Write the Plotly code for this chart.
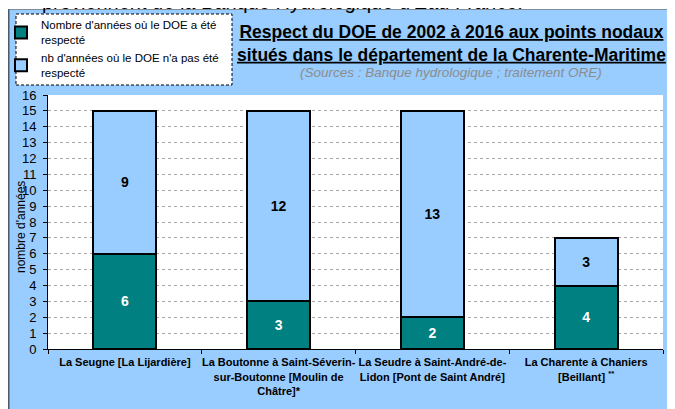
import plotly.graph_objects as go

categories = [
    "La Seugne [La Lijardière]",
    "La Boutonne à Saint-Séverin-<br>sur-Boutonne [Moulin de<br>Châtre]*",
    "La Seudre à Saint-André-de-<br>Lidon [Pont de Saint André]",
    "La Charente à Chaniers<br>[Beillant] <sup>**</sup>",
]
respecte = [6, 3, 2, 4]
non_respecte = [9, 12, 13, 3]
series_names = [
    "Nombre d'années où le DOE a été<br>respecté",
    "nb d'années où le DOE n'a pas été<br>respecté",
]
y_ticks = list(range(0, 17))
y_title = "nombre d'années"

# page offset (body margin of the html page)
OFF = 8
W, H = 675 - OFF, 409 - OFF
# plot area in page pixels: x 48..663, y 95..349
L = 48 - OFF
R = (OFF + W) - 663
T = 95 - OFF
B = (OFF + H) - 349
PW, PH = W - L - R, H - T - B


def px(x):
    """page x pixel -> paper coordinate"""
    return (x - OFF - L) / PW


def py(y):
    """page y pixel -> paper coordinate"""
    return (OFF + H - B - y) / PH


fig = go.Figure()
fig.add_trace(go.Bar(
    x=categories, y=respecte, name=series_names[0],
    marker=dict(color="#008080", line=dict(color="black", width=2)),
    text=respecte, textposition="inside", insidetextanchor="middle",
    textangle=0,
    textfont=dict(color="white", size=14, family="Liberation Sans"),
    texttemplate="<b>%{text}</b>",
))
fig.add_trace(go.Bar(
    x=categories, y=non_respecte, name=series_names[1],
    marker=dict(color="#99CCFF", line=dict(color="black", width=2)),
    text=non_respecte, textposition="inside", insidetextanchor="middle",
    textangle=0,
    textfont=dict(color="black", size=14, family="Liberation Sans"),
    texttemplate="<b>%{text}</b>",
))

shapes = [
    # white strip at top
    dict(type="rect", xref="paper", yref="paper", x0=px(0), x1=px(700), y0=py(9.3), y1=py(0),
         fillcolor="white", line=dict(width=0), layer="below"),
    # panel borders
    dict(type="line", xref="paper", yref="paper", x0=px(8), x1=px(700), y0=py(9.5), y1=py(9.5),
         line=dict(color="#7f8c99", width=1), layer="below"),
    dict(type="line", xref="paper", yref="paper", x0=px(8.5), x1=px(8.5), y0=py(9.3), y1=py(420),
         line=dict(color="#4d5966", width=2), layer="below"),
    # legend box
    dict(type="rect", xref="paper", yref="paper", x0=px(16), x1=px(232), y0=py(85), y1=py(14),
         fillcolor="white", line=dict(color="black", width=1, dash="3px,2px"), layer="below"),
]

annotations = [
    dict(text="proviennent de la Banque Hydrologique d'Eau France.", xref="paper", yref="paper",
         x=px(40), y=py(2), xanchor="left", yanchor="middle", showarrow=False,
         font=dict(size=20, color="black", family="Liberation Sans")),
    dict(text="<b><u>Respect du DOE de 2002 à 2016 aux points nodaux</u></b><br>"
              "<b><u>situés dans le département de la Charente-Maritime</u></b>",
         xref="paper", yref="paper", x=px(451), y=py(44), xanchor="center", yanchor="middle",
         showarrow=False, align="center",
         font=dict(size=17.5, color="black", family="Liberation Sans")),
    dict(text="<i>(Sources : Banque hydrologique ; traitement ORE)</i>",
         xref="paper", yref="paper", x=px(451), y=py(72.5), xanchor="center", yanchor="middle",
         showarrow=False, font=dict(size=13.5, color="#8c8c8c", family="Liberation Sans")),
    # y axis title
    dict(text=y_title, xref="paper", yref="paper", x=px(21), y=py(227),
         xanchor="center", yanchor="middle", textangle=-90, showarrow=False,
         font=dict(size=12, color="black", family="Liberation Sans")),
]

fig.update_layout(
    width=W, height=H,
    margin=dict(l=L, r=R, t=T, b=B, pad=0, autoexpand=False),
    paper_bgcolor="#99CCFF",
    plot_bgcolor="white",
    barmode="stack",
    bargap=0.59,
    font=dict(family="Liberation Sans", color="black", size=11),
    showlegend=True,
    legend=dict(
        x=px(1), y=py(11), xanchor="left", yanchor="top",
        bgcolor="rgba(0,0,0,0)", borderwidth=0,
        traceorder="normal", tracegroupgap=2,
        font=dict(size=11.5, family="Liberation Sans", color="black"),
    ),
    shapes=shapes,
    annotations=annotations,
    xaxis=dict(
        showline=True, linecolor="black", linewidth=1,
        ticks="outside", tickson="boundaries", ticklen=4, tickcolor="black",
        tickangle=0, ticklabelstandoff=3,
        tickfont=dict(size=11, family="Liberation Sans", color="black"),
        tickprefix="<b>", ticksuffix="</b>",
        showgrid=False, automargin=False,
    ),
    yaxis=dict(
        range=[0, 16], tickvals=y_ticks, ticktext=[str(v) for v in y_ticks],
        showline=True, linecolor="black", linewidth=1,
        ticks="outside", ticklen=4, tickcolor="black", ticklabelstandoff=4,
        tickfont=dict(size=13, family="Liberation Sans", color="black"),
        showgrid=True, gridcolor="#a8a8a8", gridwidth=1, griddash="dot",
        zeroline=False, automargin=False,
    ),
)

fig.write_html("out.html")
